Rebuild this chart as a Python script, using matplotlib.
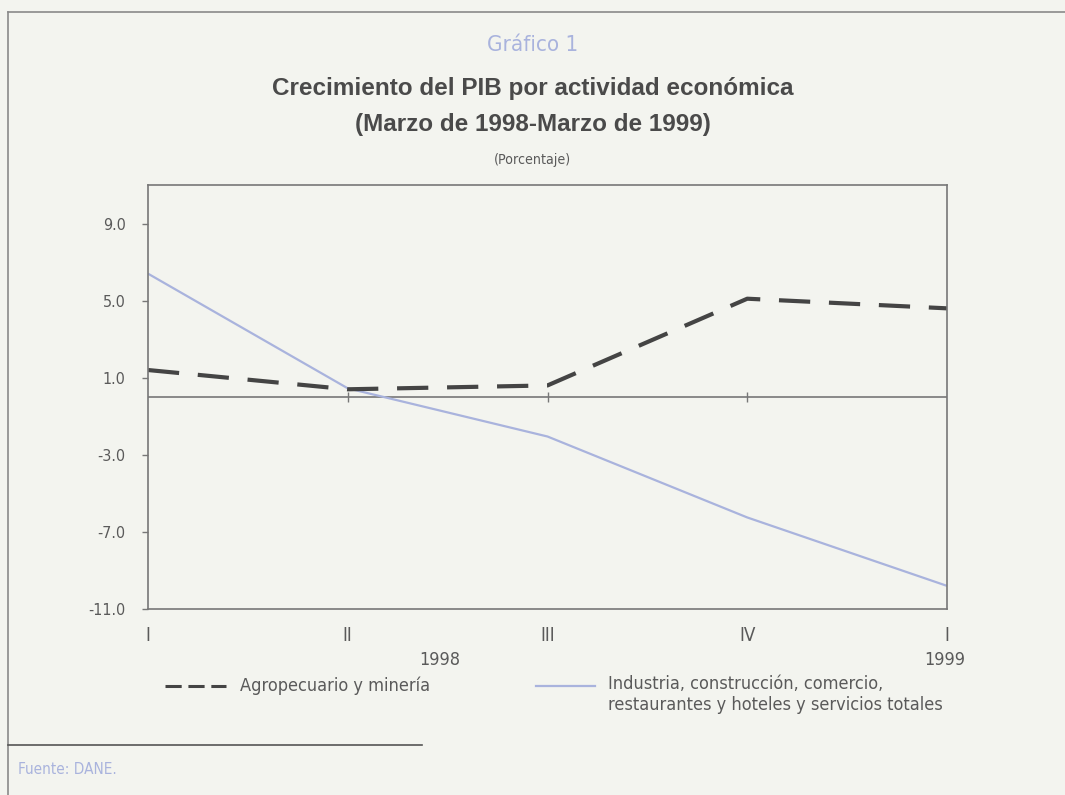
import matplotlib.pyplot as plt
import numpy as np

# quarters (march 1998 - march 1999)
quarters = ["I", "II", "III", "IV", "I"]
years = ["1998", "1999"]

# growth in percent
agro = [1.4, 0.4, 0.6, 5.1, 4.6]
industria = [6.4, 0.45, -2.05, -6.25, -9.8]

yticks = [9, 5, 1, -3, -7, -11]

bg = "#f3f4ef"
grey = "#5a5a5a"
blue = "#a9b3dd"
W, H = 1065, 795

fig = plt.figure(figsize=(W / 100, H / 100), dpi=100, facecolor=bg)

# axes box in pixel terms: left 148, right 947, top 185, bottom 609
ax = fig.add_axes([148 / W, 1 - 609 / H, (947 - 148) / W, (609 - 185) / H])
ax.set_facecolor(bg)

x = np.arange(len(quarters))
ax.axhline(0, color="#777777", lw=1.2)
ax.plot(x, industria, color=blue, lw=1.6, solid_capstyle="butt")
ax.plot(x, agro, color="#444444", lw=3.0, dashes=(7.5, 4.5))

ax.set_xlim(0, 4)
ax.set_ylim(-11, 11)

for s in ax.spines.values():
    s.set_color("#777777")
    s.set_linewidth(1.2)

cond = dict(family="DejaVu Sans", stretch="condensed")

ax.set_yticks(yticks)
ax.set_yticklabels([f"{v:.1f}" for v in yticks], color=grey, fontsize=11.5, **cond)
ax.tick_params(axis="y", direction="out", length=4, width=1, color="#777777", pad=12)

ax.set_xticks(x)
ax.set_xticklabels(quarters, color=grey, fontsize=13.5, **cond)
ax.tick_params(axis="x", length=0, pad=12)

# small quarter ticks on the zero line
zero = ax.secondary_xaxis(0.5)
zero.set_xticks(x[1:-1])
zero.set_xticklabels([])
zero.tick_params(direction="inout", length=7, width=1, color="#777777")
for s in zero.spines.values():
    s.set_visible(False)

# year labels
fig.text(440 / W, 1 - 660 / H, years[0], color=grey, fontsize=13, ha="center", va="center", **cond)
fig.text(945 / W, 1 - 660 / H, years[1], color=grey, fontsize=13, ha="center", va="center", **cond)

# titles
fig.text(0.5, 1 - 45 / H, "Gráfico 1", color=blue, fontsize=16, ha="center", va="center", **cond)
fig.text(0.5, 1 - 88 / H, "Crecimiento del PIB por actividad económica", color="#4a4a4a",
         fontsize=17.5, fontweight="bold", family="Liberation Sans", ha="center", va="center")
fig.text(0.5, 1 - 125 / H, "(Marzo de 1998-Marzo de 1999)", color="#4a4a4a",
         fontsize=17.5, fontweight="bold", family="Liberation Sans", ha="center", va="center")
fig.text(0.5, 1 - 160 / H, "(Porcentaje)", color=grey, fontsize=10.2, ha="center", va="center", **cond)

# legend drawn by hand below the axis
fig.add_artist(plt.Line2D([165 / W, 226 / W], [1 - 686 / H] * 2, color="#444444",
                          lw=2.2, dashes=(5.3, 2.2)))
fig.text(240 / W, 1 - 686 / H, "Agropecuario y minería", color=grey, fontsize=13,
         va="center", **cond)
fig.add_artist(plt.Line2D([536 / W, 595 / W], [1 - 686 / H] * 2, color=blue, lw=1.6))
fig.text(608 / W, 1 - 675 / H, "Industria, construcción, comercio,\nrestaurantes y hoteles y servicios totales",
         color=grey, fontsize=13, va="top", linespacing=1.2, **cond)

# page frame and source note
fig.add_artist(plt.Line2D([8 / W, 1], [1 - 12 / H] * 2, color="#8a8a8a", lw=1.2))
fig.add_artist(plt.Line2D([8 / W] * 2, [0, 1 - 12 / H], color="#8a8a8a", lw=1.2))
fig.add_artist(plt.Line2D([8 / W, 422 / W], [1 - 745 / H] * 2, color="#555555", lw=1.2))
fig.text(18 / W, 1 - 769 / H, "Fuente: DANE.", color=blue, fontsize=11, va="center", **cond)

fig.savefig("out.png", dpi=100, facecolor=bg)
